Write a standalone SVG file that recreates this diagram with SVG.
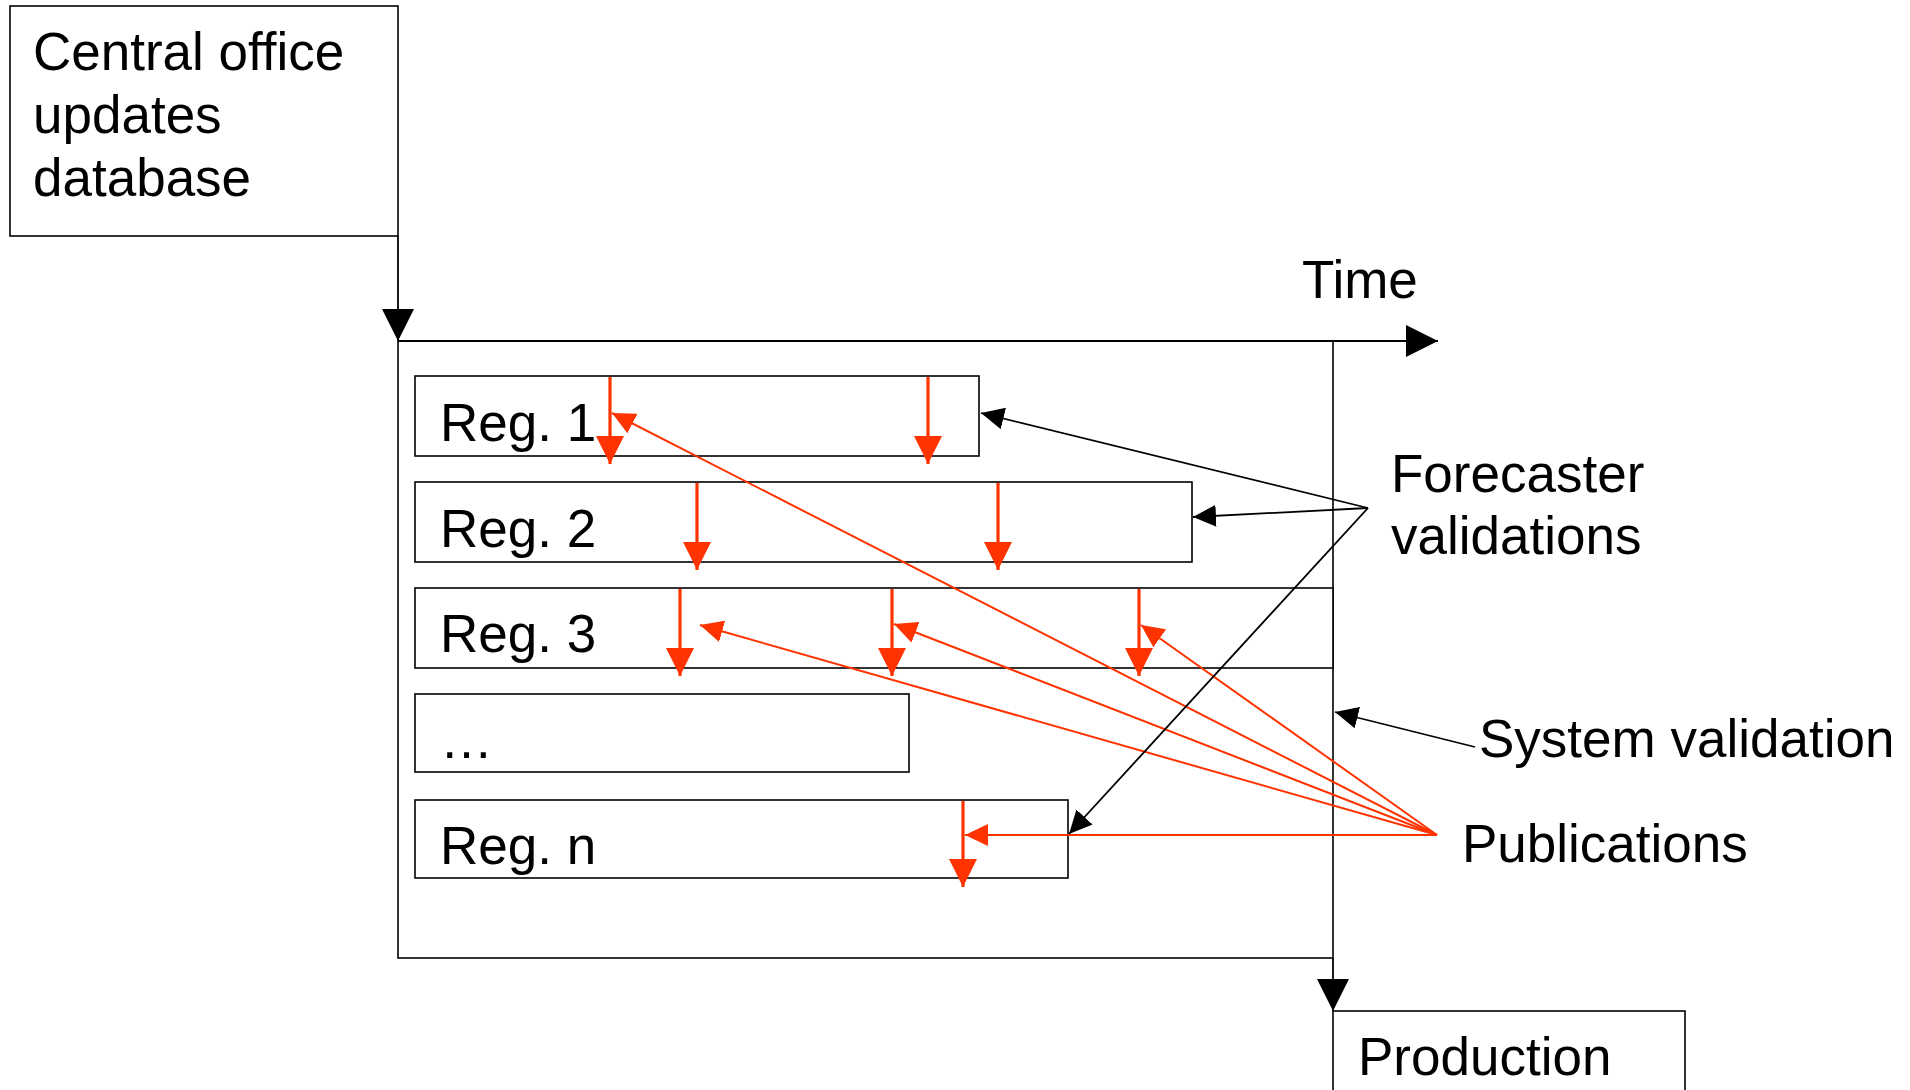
<svg xmlns="http://www.w3.org/2000/svg" width="1910" height="1090" viewBox="0 0 1910 1090">
  <style>
    .box { fill: #ffffff; stroke: #000000; stroke-width: 1.6; }
    .lbl { font-family: "Liberation Sans", Arial, sans-serif; font-size: 53px; fill: #000000; }
    .blk { fill: none; stroke: #000000; stroke-width: 1.8; }
    .axis { fill: none; stroke: #000000; stroke-width: 2.2; }
    .pub { fill: none; stroke: #FF3300; stroke-width: 2; }
    .val { fill: none; stroke: #FF3300; stroke-width: 3.2; }
  </style>
  <defs>
    <marker id="arrowBig" markerUnits="userSpaceOnUse" markerWidth="32" markerHeight="32" refX="32" refY="16" orient="auto">
      <path d="M0,0 L32,16 L0,32 z" fill="#000000"/>
    </marker>
    <marker id="arrowSmall" markerUnits="userSpaceOnUse" markerWidth="23" markerHeight="22" refX="23" refY="11" orient="auto">
      <path d="M0,0 L23,11 L0,22 z" fill="#000000"/>
    </marker>
    <marker id="redBig" markerUnits="userSpaceOnUse" markerWidth="28" markerHeight="28" refX="28" refY="14" orient="auto">
      <path d="M0,0 L28,14 L0,28 z" fill="#FF3300"/>
    </marker>
    <marker id="redSmall" markerUnits="userSpaceOnUse" markerWidth="23" markerHeight="22" refX="23" refY="11" orient="auto">
      <path d="M0,0 L23,11 L0,22 z" fill="#FF3300"/>
    </marker>
  </defs>

  <!-- source of updates -->
  <g id="central-office">
    <rect class="box" x="10" y="6" width="388" height="230"/>
    <text class="lbl" x="33" y="70">Central office</text>
    <text class="lbl" x="33" y="133">updates</text>
    <text class="lbl" x="33" y="196">database</text>
  </g>

  <!-- production period frame -->
  <g id="frame">
    <rect class="box" x="398" y="341" width="935" height="617"/>
  </g>

  <g id="time-label">
    <text class="lbl" x="1302" y="298">Time</text>
  </g>

  <g id="reg-1">
    <rect class="box" x="415" y="376" width="564" height="80"/>
    <text class="lbl" x="440" y="441">Reg. 1</text>
  </g>
  <g id="reg-2">
    <rect class="box" x="415" y="482" width="777" height="80"/>
    <text class="lbl" x="440" y="547">Reg. 2</text>
  </g>
  <g id="reg-3">
    <rect class="box" x="415" y="588" width="918" height="80"/>
    <text class="lbl" x="440" y="652">Reg. 3</text>
  </g>
  <g id="reg-more">
    <rect class="box" x="415" y="694" width="494" height="78"/>
    <text class="lbl" x="440" y="758">…</text>
  </g>
  <g id="reg-n">
    <rect class="box" x="415" y="800" width="653" height="78"/>
    <text class="lbl" x="440" y="864">Reg. n</text>
  </g>

  <g id="production">
    <rect class="box" x="1333" y="1011" width="352" height="100"/>
    <text class="lbl" x="1358" y="1075">Production</text>
  </g>

  <g id="forecaster-label">
    <text class="lbl" x="1391" y="492">Forecaster</text>
    <text class="lbl" x="1391" y="554">validations</text>
  </g>
  <g id="system-label">
    <text class="lbl" x="1479" y="757">System validation</text>
  </g>
  <g id="publications-label">
    <text class="lbl" x="1462" y="862">Publications</text>
  </g>

  <g id="connectors">
    <!-- flow: database -> period -> production, and time axis -->
    <line class="blk" x1="398" y1="236" x2="398" y2="341" marker-end="url(#arrowBig)"/>
    <line class="axis" x1="398" y1="341" x2="1438" y2="341" marker-end="url(#arrowBig)"/>
    <line class="blk" x1="1333" y1="958" x2="1333" y2="1011" marker-end="url(#arrowBig)"/>

    <!-- regional validations -->
    <line class="val" x1="610" y1="377" x2="610" y2="464" marker-end="url(#redBig)"/>
    <line class="val" x1="928" y1="377" x2="928" y2="464" marker-end="url(#redBig)"/>
    <line class="val" x1="697" y1="483" x2="697" y2="570" marker-end="url(#redBig)"/>
    <line class="val" x1="998" y1="483" x2="998" y2="570" marker-end="url(#redBig)"/>
    <line class="val" x1="680" y1="589" x2="680" y2="676" marker-end="url(#redBig)"/>
    <line class="val" x1="892" y1="589" x2="892" y2="676" marker-end="url(#redBig)"/>
    <line class="val" x1="1139" y1="589" x2="1139" y2="676" marker-end="url(#redBig)"/>
    <line class="val" x1="963" y1="801" x2="963" y2="887" marker-end="url(#redBig)"/>

    <!-- publications -->
    <line class="pub" x1="1437" y1="835" x2="612" y2="413" marker-end="url(#redSmall)"/>
    <line class="pub" x1="1437" y1="835" x2="700" y2="625" marker-end="url(#redSmall)"/>
    <line class="pub" x1="1437" y1="835" x2="894" y2="624" marker-end="url(#redSmall)"/>
    <line class="pub" x1="1437" y1="835" x2="1141" y2="625" marker-end="url(#redSmall)"/>
    <line class="pub" x1="1437" y1="835" x2="965" y2="835" marker-end="url(#redSmall)"/>

    <!-- forecaster validations -->
    <line class="blk" x1="1368" y1="508" x2="981" y2="413" marker-end="url(#arrowSmall)"/>
    <line class="blk" x1="1368" y1="508" x2="1193" y2="517" marker-end="url(#arrowSmall)"/>
    <line class="blk" x1="1368" y1="508" x2="1069" y2="834" marker-end="url(#arrowSmall)"/>

    <!-- system validation -->
    <line class="blk" x1="1475" y1="747" x2="1335" y2="712" marker-end="url(#arrowSmall)"/>
  </g>
</svg>
